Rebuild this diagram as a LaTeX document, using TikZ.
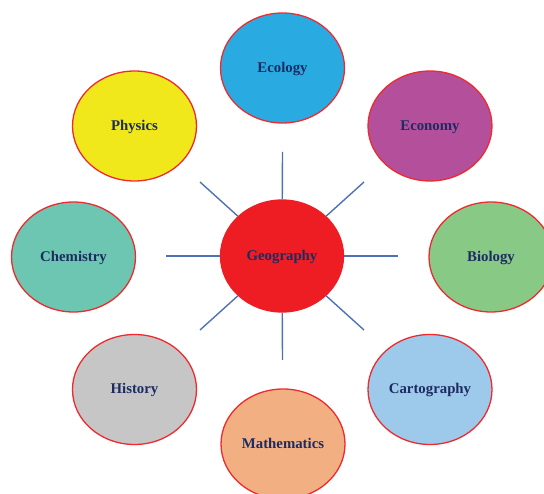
\documentclass[tikz,border=0pt]{standalone}
\usepackage{fontspec}
\setmainfont{Liberation Serif}
\usetikzlibrary{shapes.geometric}
\definecolor{ecol}{HTML}{29ABE2}
\definecolor{phys}{HTML}{F0E81A}
\definecolor{econ}{HTML}{B44F9C}
\definecolor{chem}{HTML}{6CC6B1}
\definecolor{biol}{HTML}{88C985}
\definecolor{hist}{HTML}{C6C6C6}
\definecolor{cart}{HTML}{9DC9EA}
\definecolor{math}{HTML}{F2B082}
\definecolor{geog}{HTML}{EE1D24}
\definecolor{rim}{HTML}{EE2A2E}
\definecolor{spokec}{HTML}{4F72B4}
\definecolor{txt}{HTML}{1C2C62}
\tikzset{
  subj/.style={ellipse, draw=rim, line width=1.3pt, minimum width=124pt, minimum height=110pt, inner sep=0pt,
    text height=9pt, text depth=0pt,
    font=\fontsize{14.8}{17}\selectfont\bfseries, text=txt},
  spokeline/.style={draw=spokec, line width=1.4pt}
}
\begin{document}
\begin{tikzpicture}[x=1pt,y=-1pt]
\useasboundingbox (0,0) rectangle (544,494);
\clip (0,0) rectangle (544,494);
\node[subj, fill=ecol] (ecology) at (282.5,68) {Ecology};
\node[subj, fill=phys] (physics) at (134.5,126) {Physics};
\node[subj, fill=econ] (economy) at (430,126) {Economy};
\node[subj, fill=chem] (chemistry) at (73.5,257) {Chemistry};
\node[subj, fill=biol] (biology) at (491,257) {Biology};
\node[subj, fill=hist] (history) at (134.5,389.5) {History};
\node[subj, fill=cart] (cartography) at (430,389.5) {Cartography};
\node[subj, fill=math] (mathematics) at (283,444) {Mathematics};
\node[subj, fill=geog, draw=geog, minimum width=123pt, minimum height=112pt] (geography) at (282,256) {Geography};
\coordinate (sN) at (282.5,152);
\coordinate (sS) at (282.5,360);
\coordinate (sW) at (166,256);
\coordinate (sE) at (398,256);
\coordinate (sNW) at (200,182);
\coordinate (sNE) at (364,182);
\coordinate (sSW) at (200,330);
\coordinate (sSE) at (364,330);
\foreach \s in {sN,sS,sW,sE,sNW,sNE,sSW,sSE}
  \draw[spokeline] (geography) -- (\s);
\end{tikzpicture}
\end{document}
